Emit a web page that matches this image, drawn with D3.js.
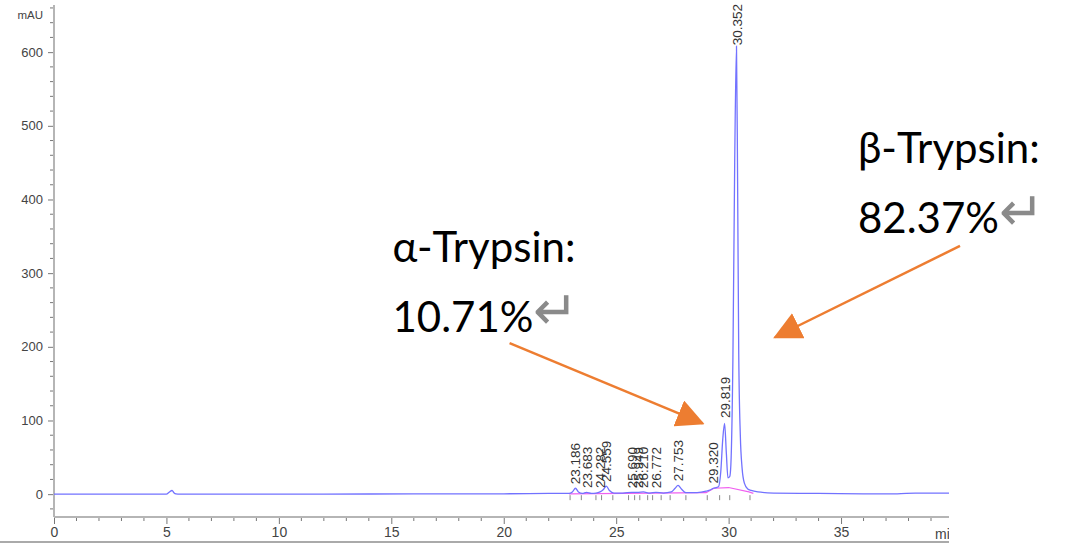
<!DOCTYPE html>
<html><head><meta charset="utf-8">
<script src="https://cdn.jsdelivr.net/npm/d3@7"></script>
<style>
html,body{margin:0;padding:0;background:#fff;}
svg{display:block;}
</style></head>
<body>
<svg id="chart" width="1080" height="546"></svg>
<script>
// ---- data ----
const times  = [0, 5.0, 5.12, 5.25, 5.33, 5.42, 5.6, 12, 16, 20, 22, 22.9, 23.05, 23.19, 23.32, 23.5, 23.68, 23.9, 24.1, 24.28, 24.42, 24.56, 24.7, 24.9, 25.3, 25.69, 25.95, 26.21, 26.5, 26.77, 27.1, 27.45, 27.62, 27.75, 27.9, 28.1, 28.6, 29.0, 29.2, 29.32, 29.45, 29.55, 29.65, 29.74, 29.82, 29.9, 29.97, 30.05, 30.1, 30.19, 30.27, 30.35, 30.4, 30.45, 30.52, 30.6, 30.7, 30.85, 31.0, 31.3, 32, 34, 36, 37.5, 38.3, 39.8];
const signal = [0, 0, 2.5, 5, 2, 0.3, 0, 0, 0.5, 0.5, 1, 1, 3, 8, 3, 1, 2.5, 1.2, 1.5, 3, 6, 11, 5, 1.5, 1.5, 2.5, 2.5, 3, 1.5, 2.5, 1.5, 3, 8, 12, 7, 2, 2, 4, 6, 8, 9, 10, 30, 75, 96, 55, 22, 24, 40, 182, 450, 608, 420, 190, 80, 35, 15, 7, 5, 3, 1.5, 1, 0.5, 0.5, 1.5, 1.5];

const baseTimes  = [22.9, 29.0, 29.35, 30.0, 30.9, 31.1];
const baseValues = [0.5, 2, 8, 9, 3, 1];
const baseMarks  = [22.95, 23.45, 24.1, 24.35, 24.85, 25.55, 25.82, 26.05, 26.4, 26.62, 27.0, 27.4, 28.1, 29.05, 29.6, 30.05, 30.95];

const peakLabels  = ["23.186","23.683","24.282","24.559","25.690","25.949","26.210","26.772","27.753","29.320","29.819","30.352"];
const peakTimes   = [23.186, 23.683, 24.282, 24.559, 25.690, 25.949, 26.210, 26.772, 27.753, 29.320, 29.819, 30.352];
const peakHeights = [8, 3, 3, 11, 2.5, 2.5, 3, 2.5, 12, 9, 98, 604];

const xTicks = [0, 5, 10, 15, 20, 25, 30, 35];
const yTicks = [0, 100, 200, 300, 400, 500, 600];
const xDomain = [0, 39.8];
const yDomain = [-31, 664];

const annoLines = [
  {t: 15.05, v: 315, text: "α-Trypsin:", ret: false},
  {t: 15.05, v: 220, text: "10.71%", ret: true},
  {t: 35.75, v: 449, text: "β-Trypsin:", ret: false},
  {t: 35.75, v: 354, text: "82.37%", ret: true}
];
const arrows = [
  {t0: 20.26, v0: 205, t1: 28.85, v1: 96},
  {t0: 40.29, v0: 337, t1: 32.06, v1: 213}
];

// ---- drawing ----
const svg = d3.select("#chart");
const x = d3.scaleLinear().domain(xDomain).range([54, 949]);
const y = d3.scaleLinear().domain(yDomain).range([517, 5]);

const defs = svg.append("defs");
defs.append("clipPath").attr("id","plotclip").append("rect")
  .attr("x",0).attr("y",0).attr("width",949).attr("height",546);
defs.append("marker").attr("id","ahead")
  .attr("markerUnits","userSpaceOnUse")
  .attr("viewBox","0 0 28 28").attr("refX",26).attr("refY",14)
  .attr("markerWidth",28).attr("markerHeight",28).attr("orient","auto")
  .append("path").attr("d","M0,0 L28,14 L0,28 Z").attr("fill","#ED7D31");

const g = svg.append("g").attr("clip-path","url(#plotclip)");

// frame bottom line
g.append("line").attr("x1",0).attr("x2",949).attr("y1",542).attr("y2",542)
  .attr("stroke","#aaa").attr("stroke-width",2);

// y axis
const yAxis = d3.axisLeft(y).tickValues(yTicks).tickSize(6).tickPadding(5);
const ya = g.append("g").attr("transform","translate(54,0)").call(yAxis);
ya.select(".domain").remove();
ya.selectAll(".tick line").attr("stroke","#777");
ya.selectAll(".tick text").attr("font-family","Liberation Sans, Arial, sans-serif")
  .attr("font-size",13).attr("fill","#444");
const yMinor = d3.range(-20, 661, 20).filter(v => v % 100 !== 0);
g.append("g").selectAll("line").data(yMinor).join("line")
  .attr("x1",50).attr("x2",54).attr("y1",d=>y(d)).attr("y2",d=>y(d))
  .attr("stroke","#777");
g.append("line").attr("x1",54).attr("x2",54).attr("y1",y(yDomain[1])).attr("y2",y(yDomain[0]))
  .attr("stroke","#b5b5b5").attr("stroke-width",2);
g.append("text").attr("x",43).attr("y",19).attr("text-anchor","end")
  .attr("font-family","Liberation Sans, Arial, sans-serif").attr("font-size",11.5)
  .attr("fill","#444").text("mAU");

// x axis
const xAxis = d3.axisBottom(x).tickValues(xTicks).tickSize(7).tickPadding(3);
const xa = g.append("g").attr("transform","translate(0,517)").call(xAxis);
xa.select(".domain").remove();
xa.selectAll(".tick line").attr("stroke","#777");
xa.selectAll(".tick text").attr("font-family","Liberation Sans, Arial, sans-serif")
  .attr("font-size",14).attr("fill","#444");
const xMinor = d3.range(1, 40, 1).filter(v => v % 5 !== 0);
g.append("g").selectAll("line").data(xMinor).join("line")
  .attr("x1",d=>x(d)).attr("x2",d=>x(d)).attr("y1",517).attr("y2",521)
  .attr("stroke","#777");
g.append("line").attr("x1",54).attr("x2",949).attr("y1",517).attr("y2",517)
  .attr("stroke","#b5b5b5").attr("stroke-width",2);
g.append("text").attr("x",935).attr("y",539)
  .attr("font-family","Liberation Sans, Arial, sans-serif").attr("font-size",14)
  .attr("fill","#444").text("min");

// baseline (integration) line
const basePts = baseTimes.map((t,i)=>[t, baseValues[i]]);
g.append("path").datum(basePts)
  .attr("d", d3.line().x(d=>x(d[0])).y(d=>y(d[1])))
  .attr("fill","none").attr("stroke","#f060f0").attr("stroke-width",1.2);
g.append("g").selectAll("line").data(baseMarks).join("line")
  .attr("x1",d=>x(d)).attr("x2",d=>x(d)).attr("y1",y(0)+1).attr("y2",y(0)+6)
  .attr("stroke","#888").attr("stroke-width",1);

// trace
const pts = times.map((t,i)=>[t, signal[i]]);
g.append("path").datum(pts)
  .attr("d", d3.line().curve(d3.curveMonotoneX).x(d=>x(d[0])).y(d=>y(d[1])))
  .attr("fill","none").attr("stroke","#7272ff").attr("stroke-width",1.3);

// peak labels
g.append("g").selectAll("text").data(peakLabels).join("text")
  .attr("transform",(d,i)=>`translate(${x(peakTimes[i])+5},${y(peakHeights[i])-4}) rotate(-90)`)
  .attr("font-family","Liberation Sans, Arial, sans-serif").attr("font-size",13.5)
  .attr("fill","#333").text(d=>d);

// annotations
const at = svg.append("g");
annoLines.forEach(a => {
  const t = at.append("text").attr("x",x(a.t)).attr("y",y(a.v))
    .attr("font-family","Lato, 'Open Sans', sans-serif").attr("font-size",42).attr("fill","#000");
  t.append("tspan").text(a.text);
  if (a.ret) t.append("tspan").attr("fill","#8a8a8a").attr("font-family","'DejaVu Sans'")
    .attr("font-weight",200).attr("font-size",54).attr("dy",-3).text("↵");
});
at.selectAll("line.arrow").data(arrows).join("line").attr("class","arrow")
  .attr("x1",d=>x(d.t0)).attr("y1",d=>y(d.v0)).attr("x2",d=>x(d.t1)).attr("y2",d=>y(d.v1))
  .attr("stroke","#ED7D31").attr("stroke-width",2.5).attr("marker-end","url(#ahead)");
</script>
</body></html>
